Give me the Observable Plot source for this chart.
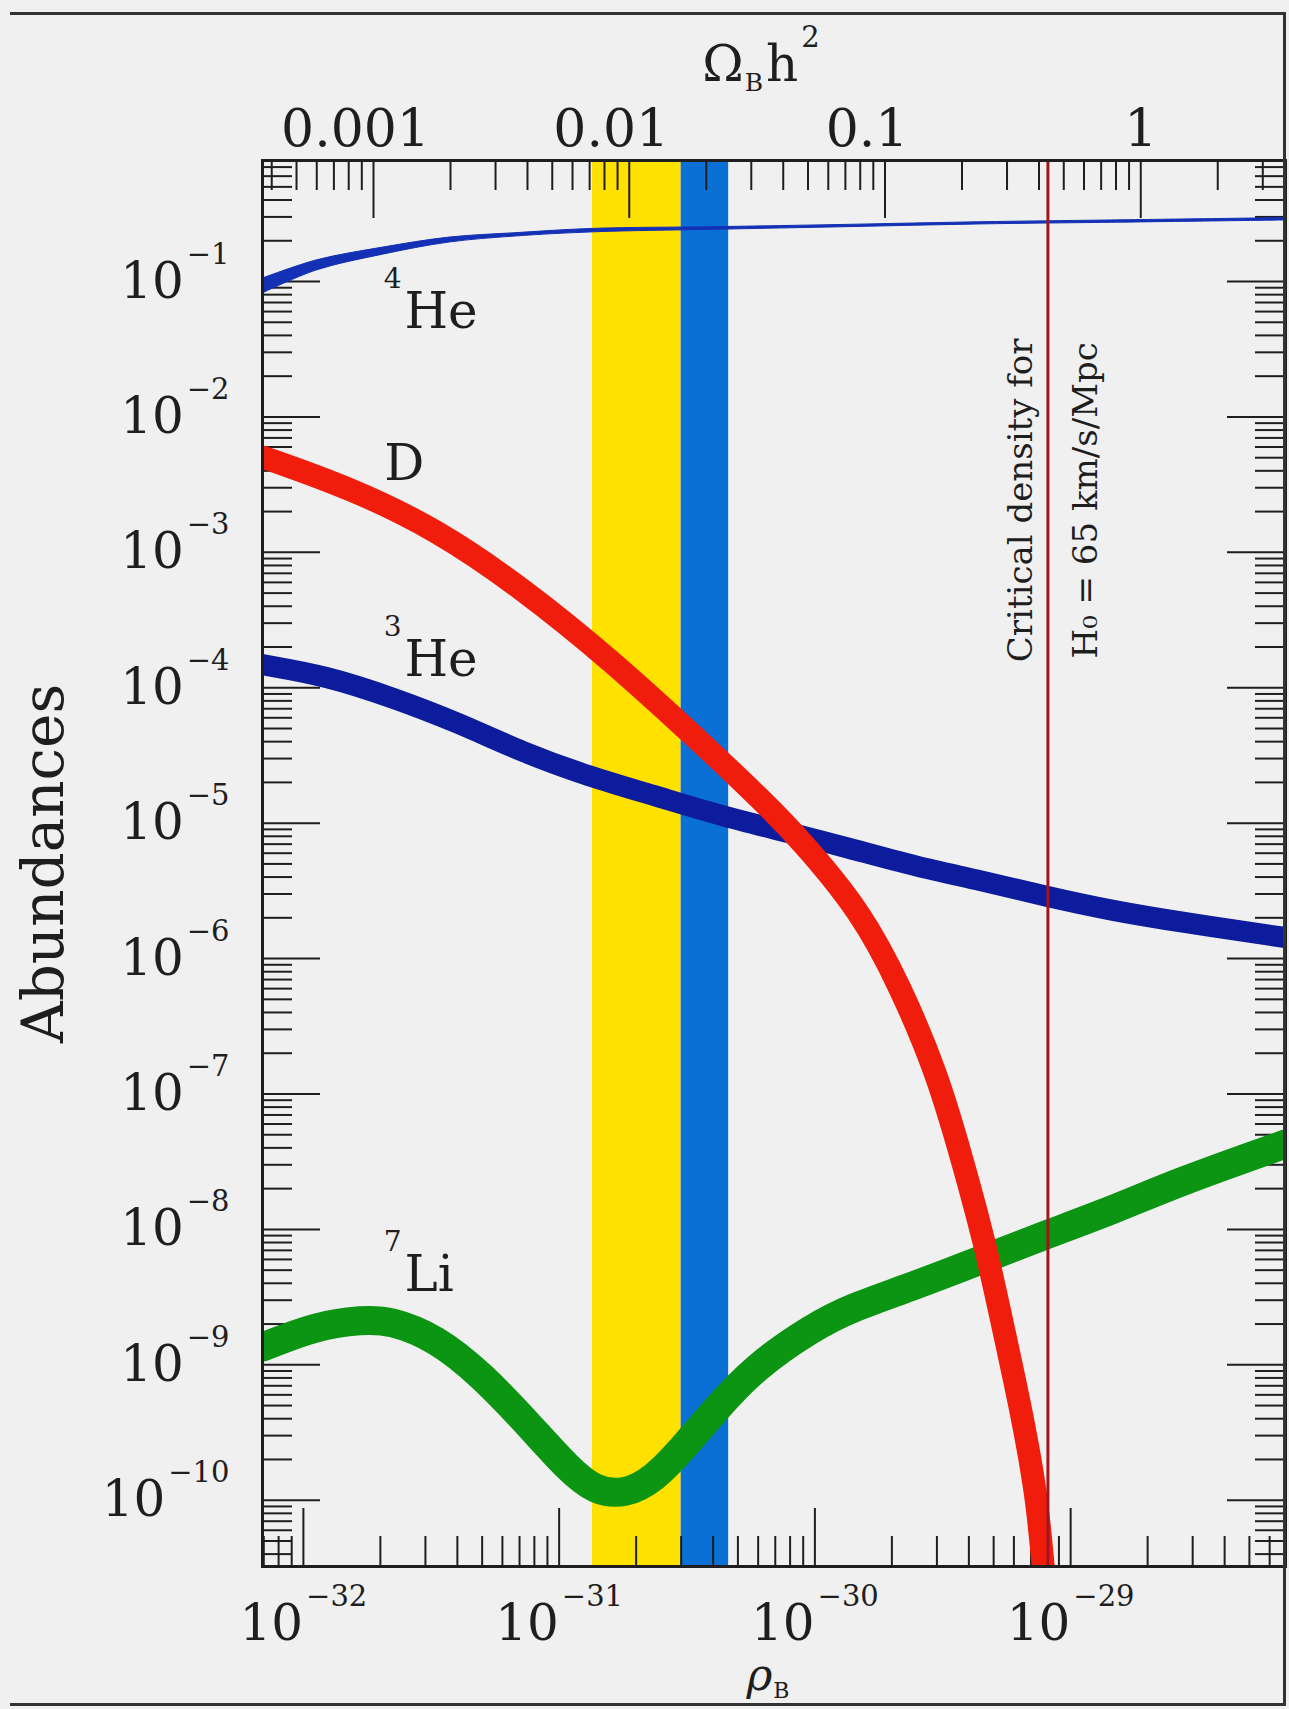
<!DOCTYPE html>
<html>
<head>
<meta charset="utf-8">
<script src="https://cdn.jsdelivr.net/npm/d3@7"></script>
<script src="https://cdn.jsdelivr.net/npm/@observablehq/plot@0.6"></script>
<style>
  html, body { margin: 0; padding: 0; background: #f0f0f0; overflow: hidden; }
  #chart { position: relative; width: 1289px; height: 1709px; }
  #border { position: absolute; left: 10px; top: 12px; width: 1273px; height: 1688px;
            border-top: 3px solid #333; border-right: 3px solid #333; border-bottom: 3px solid #333;
            pointer-events: none; z-index: 2; }
</style>
</head>
<body>
<div id="chart"><div id="border"></div></div>
<script>
// ---------------- data ----------------
const xDomain = [6.92e-33, 6.92e-29];          // ρB range of the frame
const yDomain = [3.24e-11, 0.783];             // abundance range of the frame
const rhoCritH2 = 1.88e-29;                    // ρB at Ω_B h² = 1
const criticalDensity = 8.15e-30;              // critical density for H0 = 65
const criticalNote = "Critical density for\nH₀ = 65 km/s/Mpc";
const criticalNoteAbund = 2.42e-3;

const yellowBand = [1.35e-31, 3.0e-31];
const blueBand = [3.0e-31, 4.6e-31];

// 4He (band)
const he4Rho = [6.92e-33, 1.125e-32, 2.05e-32, 3.72e-32, 6.75e-32, 1.38e-31, 4.05e-31, 1.33e-30, 4.41e-30, 1.45e-29, 6.92e-29];
const he4Lo  = [0.0815, 0.1205, 0.158, 0.194, 0.215, 0.231, 0.241, 0.252, 0.264, 0.2716, 0.2825];
const he4Hi  = [0.105, 0.143, 0.178, 0.211, 0.2275, 0.245, 0.252, 0.262, 0.274, 0.2825, 0.294];

// D
const dRho   = [6.92e-33, 1.51e-32, 3.30e-32, 7.24e-32, 1.59e-31, 3.48e-31, 6.28e-31, 8.87e-31, 1.52e-30, 2.15e-30, 2.99e-30, 3.74e-30, 4.62e-30, 5.45e-30, 6.45e-30, 7.40e-30, 7.80e-30, 8.3e-30];
const dAbund = [5.06e-3, 3.01e-3, 1.49e-3, 5.37e-4, 1.61e-4, 4.17e-5, 1.45e-5, 7.40e-6, 2.20e-6, 6.27e-7, 1.46e-7, 3.45e-8, 8.0e-9, 1.88e-9, 4.36e-10, 1.03e-10, 3.24e-11, 1e-11];

// 3He
const he3Rho   = [6.92e-33, 1.24e-32, 2.23e-32, 4.03e-32, 7.24e-32, 1.31e-31, 2.36e-31, 4.24e-31, 7.64e-31, 1.38e-30, 2.48e-30, 4.47e-30, 8.05e-30, 1.45e-29, 2.61e-29, 6.92e-29];
const he3Abund = [1.48e-4, 1.22e-4, 8.47e-5, 5.53e-5, 3.32e-5, 2.21e-5, 1.60e-5, 1.14e-5, 8.67e-6, 6.49e-6, 4.78e-6, 3.77e-6, 2.87e-6, 2.26e-6, 1.875e-6, 1.43e-6];

// 7Li
const li7Rho   = [6.92e-33, 1.125e-32, 1.71e-32, 2.17e-32, 3.30e-32, 5.01e-32, 7.59e-32, 1.086e-31, 1.38e-31, 1.81e-31, 2.36e-31, 3.00e-31, 4.05e-31, 5.78e-31, 9.89e-31, 1.38e-30, 2.42e-30, 4.41e-30, 7.98e-30, 1.45e-29, 2.64e-29, 6.92e-29];
const li7Abund = [1.35e-9, 1.95e-9, 2.15e-9, 2.14e-9, 1.585e-9, 8.32e-10, 3.63e-10, 1.70e-10, 1.17e-10, 1.10e-10, 1.445e-10, 2.34e-10, 4.57e-10, 9.55e-10, 1.91e-9, 2.63e-9, 3.80e-9, 5.89e-9, 9.12e-9, 1.38e-8, 2.24e-8, 4.27e-8];

// curve labels
const labelText  = ["~{4}He", "D", "~{3}He", "~{7}Li"];
const labelRho   = [2.06e-32, 2.07e-32, 2.06e-32, 2.06e-32];
const labelAbund = [0.045, 3.45e-3, 1.22e-4, 3.53e-9];

// ticks
const xMajorTicks = [1e-32, 1e-31, 1e-30, 1e-29];
const omegaMajorTicks = [0.001, 0.01, 0.1, 1];
const yMajorTicks = [1e-1, 1e-2, 1e-3, 1e-4, 1e-5, 1e-6, 1e-7, 1e-8, 1e-9, 1e-10];
const mantissas = [2, 3, 4, 5, 6, 7, 8, 9];

// ---------------- helpers ----------------
function minorTicks(lo, hi, eFrom, eTo) {
  const out = [];
  for (let e = eFrom; e <= eTo; e++) for (const m of mantissas) {
    const v = m * Math.pow(10, e);
    if (v >= lo && v <= hi) out.push(v);
  }
  return out;
}
const xMinorTicks = minorTicks(xDomain[0], xDomain[1], -33, -29);
const omegaMinorTicks = minorTicks(xDomain[0] / rhoCritH2, xDomain[1] / rhoCritH2, -4, 0);
const yMinorTicks = minorTicks(yDomain[0], yDomain[1], -11, -1);
const omegaMajorRho = omegaMajorTicks.map(o => o * rhoCritH2);
const omegaMinorRho = omegaMinorTicks.map(o => o * rhoCritH2);

const he4 = he4Rho.map((r, i) => ({rho: r, lo: he4Lo[i], hi: he4Hi[i]}));
const dRows = dRho.map((r, i) => ({rho: r, v: dAbund[i]}));
const he3 = he3Rho.map((r, i) => ({rho: r, v: he3Abund[i]}));
const li7 = li7Rho.map((r, i) => ({rho: r, v: li7Abund[i]}));
const labels = labelText.map((t, i) => ({t, rho: labelRho[i], v: labelAbund[i]}));

const expFmt = d => `10^{${String(Math.round(Math.log10(d))).replace("-", "\u2212")}}`;
const omegaFmt = d => String(+(d / rhoCritH2).toPrecision(3));

// ---------------- layout ----------------
const W = 1289, H = 1709, mL = 262, mR = 4, mT = 160, mB = 143;
const fw = W - mL - mR, fh = H - mT - mB;
const majorLen = 58, minorLen = 30;
const ink = "#1e1e1e";
const tk = {stroke: ink, strokeWidth: 2};

const plot = Plot.plot({
  width: W, height: H,
  marginLeft: mL, marginRight: mR, marginTop: mT, marginBottom: mB,
  x: {type: "log", domain: xDomain},
  y: {type: "log", domain: yDomain},
  style: {background: "#f0f0f0", fontFamily: "'DejaVu Serif', serif", color: ink},
  marks: [
    Plot.rect([yellowBand], {x1: d => d[0], x2: d => d[1], fill: "#ffe100"}),
    Plot.rect([blueBand], {x1: d => d[0], x2: d => d[1], fill: "#0a70d6"}),

    // inward ticks: left / right
    Plot.ruleY(yMajorTicks, {y: d => d, insetRight: fw - majorLen, ...tk}),
    Plot.ruleY(yMinorTicks, {y: d => d, insetRight: fw - minorLen, ...tk}),
    Plot.ruleY(yMajorTicks, {y: d => d, insetLeft: fw - majorLen, ...tk}),
    Plot.ruleY(yMinorTicks, {y: d => d, insetLeft: fw - minorLen, ...tk}),
    // bottom (ρB) and top (Ω_B h²)
    Plot.ruleX(xMajorTicks, {x: d => d, insetTop: fh - majorLen, ...tk}),
    Plot.ruleX(xMinorTicks, {x: d => d, insetTop: fh - minorLen, ...tk}),
    Plot.ruleX(omegaMajorRho, {x: d => d, insetBottom: fh - majorLen, ...tk}),
    Plot.ruleX(omegaMinorRho, {x: d => d, insetBottom: fh - minorLen, ...tk}),

    // abundance curves
    Plot.areaY(he4, {x: "rho", y1: "lo", y2: "hi", fill: "#1430b4", stroke: "#1430b4", strokeWidth: 1, curve: "catmull-rom", clip: true}),
    Plot.line(he3, {x: "rho", y: "v", stroke: "#0c1c9c", strokeWidth: 21, curve: "basis", clip: true}),
    Plot.line(li7, {x: "rho", y: "v", stroke: "#0b9512", strokeWidth: 29, curve: "basis", clip: true}),
    Plot.line(dRows, {x: "rho", y: "v", stroke: "#f01c0c", strokeWidth: 23, curve: "basis", clip: true}),

    Plot.ruleX([criticalDensity], {x: d => d, stroke: "#a3141c", strokeWidth: 3}),
    Plot.frame({stroke: ink, strokeWidth: 3}),

    // axes labels
    Plot.axisY(yMajorTicks, {anchor: "left", tickSize: 0, tickPadding: 33, tickFormat: expFmt, fontSize: 50, label: null}),
    Plot.axisX(xMajorTicks, {anchor: "bottom", tickSize: 0, tickPadding: 38, tickFormat: expFmt, fontSize: 50, label: null}),
    Plot.axisX(omegaMajorRho.slice(0, 3), {anchor: "top", tickSize: 0, tickPadding: 15, fontSize: 52, label: null, dx: -18, tickFormat: omegaFmt}),
    Plot.axisX(omegaMajorRho.slice(3), {anchor: "top", tickSize: 0, tickPadding: 15, fontSize: 52, label: null, tickFormat: omegaFmt}),

    Plot.text(["Abundances"], {frameAnchor: "left", dx: -218, rotate: -90, textAnchor: "middle", lineAnchor: "middle", fontSize: 58, text: d => d}),
    Plot.text(["\u03a9_{B}h^{2}"], {frameAnchor: "top", dy: -80, dx: -13, textAnchor: "middle", lineAnchor: "bottom", fontSize: 50, text: d => d}),
    Plot.text(["*{\u03c1}_{B}"], {frameAnchor: "bottom", dy: 123, dx: -6, textAnchor: "middle", lineAnchor: "bottom", fontSize: 44, text: d => d}),

    Plot.text(labels, {x: "rho", y: "v", text: "t", textAnchor: "start", lineAnchor: "bottom", fontSize: 50}),
    Plot.text([criticalDensity], {x: d => d, y: () => criticalNoteAbund, text: () => criticalNote,
      rotate: -90, textAnchor: "middle", lineAnchor: "bottom", lineHeight: 1.91, dx: 49, fontSize: 34})
  ]
});

document.getElementById("chart").appendChild(plot);

// turn ^{..} (superscript), ~{..} (isotope superscript), _{..} (subscript), *{..} (italic) into tspans
function richify(root) {
  const NS = "http://www.w3.org/2000/svg";
  root.querySelectorAll("text").forEach(t => {
    if (t.querySelector("tspan")) return;
    const s = t.textContent;
    if (!/[\^~_*]\{/.test(s)) return;
    const fs = parseFloat(getComputedStyle(t).fontSize) || 50;
    t.textContent = "";
    const re = /([\^~_*])\{([^}]*)\}|([^\^~_*]+)/g;
    let m, shift = 0;
    while ((m = re.exec(s))) {
      const ts = document.createElementNS(NS, "tspan");
      let target = 0, size = null, dx = 0;
      if (m[1] === "^") { target = -fs * 0.68; size = fs * 0.58; dx = 3; ts.textContent = m[2]; }
      else if (m[1] === "~") { target = -fs * 0.8; size = fs * 0.56; ts.textContent = m[2]; }
      else if (m[1] === "_") { target = fs * 0.2; size = fs * 0.5; dx = 1; ts.textContent = m[2]; }
      else if (m[1] === "*") { ts.setAttribute("font-style", "italic"); ts.textContent = m[2]; }
      else { ts.textContent = m[3]; if (shift !== 0) dx = 3; }
      if (size) ts.setAttribute("font-size", size);
      const d = target - shift;
      if (d) ts.setAttribute("dy", d);
      if (dx) ts.setAttribute("dx", dx);
      shift = target;
      t.appendChild(ts);
    }
  });
}
richify(plot);
</script>
</body>
</html>
